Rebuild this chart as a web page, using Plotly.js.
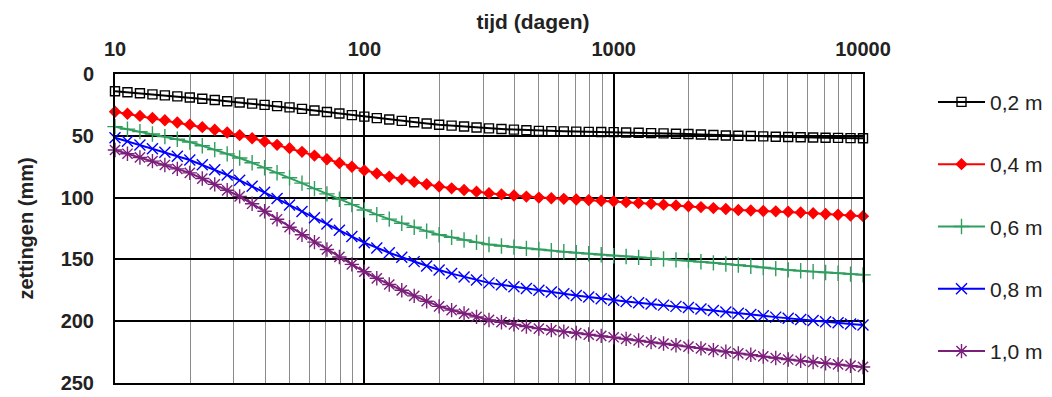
<!DOCTYPE html>
<html>
<head>
<meta charset="utf-8">
<script src="https://cdn.plot.ly/plotly-3.0.1.min.js"></script>
<style>html,body{margin:0;padding:0;background:#fff;}#chart{width:1052px;height:397px;}</style>
</head>
<body>
<div id="chart"></div>
<script>
// time (days), 20 steps per decade
const tijd = [10, 11.22, 12.59, 14.13, 15.85, 17.78, 19.95, 22.39, 25.12, 28.18,
  31.62, 35.48, 39.81, 44.67, 50.12, 56.23, 63.1, 70.79, 79.43, 89.13,
  100, 112.2, 125.9, 141.3, 158.5, 177.8, 199.5, 223.9, 251.2, 281.8,
  316.2, 354.8, 398.1, 446.7, 501.2, 562.3, 631, 707.9, 794.3, 891.3,
  1000, 1122, 1259, 1413, 1585, 1778, 1995, 2239, 2512, 2818,
  3162, 3548, 3981, 4467, 5012, 5623, 6310, 7079, 7943, 8913, 10000];

const seriesNames = ["0,2 m", "0,4 m", "0,6 m", "0,8 m", "1,0 m"];

const z02 = [14, 14.8, 15.6, 16.5, 17.3, 18.1, 19, 20, 21, 22,
  23, 24, 25, 26, 27, 28.2, 29.5, 30.8, 32, 33.3,
  34.5, 35.7, 36.8, 37.9, 39, 40, 41, 41.8, 42.5, 43.3,
  44, 44.5, 45, 45.5, 46, 46.2, 46.4, 46.6, 46.8, 46.9,
  47, 47.3, 47.5, 47.8, 48, 48.3, 48.6, 49, 49.3, 49.7,
  50, 50.2, 50.5, 50.8, 51, 51.2, 51.4, 51.6, 51.7, 51.9, 52];

const z04 = [30.5, 32.2, 33.9, 35.6, 37.4, 39.2, 41, 43, 45.1, 47.3,
  49.5, 52, 54.6, 57.3, 60, 63, 66, 69, 72, 75,
  78, 80.5, 83, 85.2, 87.3, 89.2, 91, 92.5, 93.9, 95.2,
  96.5, 97.4, 98.3, 99.2, 100, 100.5, 101, 101.5, 102, 102.5,
  103, 103.7, 104.4, 105, 105.7, 106.3, 107, 107.7, 108.5, 109.2,
  110, 110.4, 110.8, 111.1, 111.5, 112.1, 112.7, 113.3, 113.9, 114.5, 115];

const z06 = [42.6, 44.6, 46.6, 48.6, 50.7, 52.8, 55, 58, 61.2, 64.6,
  68, 71.8, 75.8, 79.9, 84, 88.3, 92.7, 97, 101.3, 105.7,
  110, 113.8, 117.4, 120.8, 124, 127.1, 130, 132.2, 134.3, 136.2,
  138, 139.1, 140.1, 141.1, 142, 142.9, 143.8, 144.6, 145.4, 146.2,
  147, 147.7, 148.4, 149.1, 149.7, 150.4, 151, 151.9, 152.8, 153.7,
  154.5, 155.5, 156.5, 157.5, 158.5, 159.2, 159.9, 160.6, 161.2, 161.9, 162.5];

const z08 = [51.5, 54.4, 57.4, 60.4, 63.4, 66.5, 69.6, 73.5, 77.5, 81.7,
  86, 90.8, 95.7, 100.8, 106, 111.2, 116.3, 121.4, 126.4, 131.5,
  136.5, 140.7, 144.6, 148.3, 151.8, 155.3, 158.6, 161.5, 164.2, 166.7,
  169, 170.6, 172.1, 173.6, 175, 176.4, 177.8, 179.2, 180.5, 181.8,
  183, 184, 185, 186, 187, 188, 189, 190.2, 191.3, 192.5,
  193.6, 194.6, 195.6, 196.7, 197.7, 198.6, 199.5, 200.4, 201.3, 202.2, 203];

const z10 = [61.5, 64.5, 67.5, 70.5, 73.6, 76.8, 80, 84.6, 89.3, 94.1,
  99, 105, 111.1, 117.5, 124, 130, 136, 142, 148, 154,
  160, 165.3, 170.3, 175, 179.5, 183.8, 188, 191, 193.8, 196.5,
  199, 200.8, 202.6, 204.3, 206, 207.2, 208.4, 209.6, 210.8, 211.9,
  213, 214.3, 215.6, 216.9, 218.1, 219.4, 220.6, 222, 223.4, 224.7,
  226, 227.2, 228.5, 229.8, 231, 232, 233, 234, 235, 236, 237];

const xTickVals = [10, 100, 1000, 10000];
const xTickText = ["<b>10</b>", "<b>100</b>", "<b>1000</b>", "<b>10000</b>"];
const xMinorVals = [20,30,40,50,60,70,80,90,200,300,400,500,600,700,800,900,2000,3000,4000,5000,6000,7000,8000,9000];
const yTickVals = [0, 50, 100, 150, 200, 250];
const yTickText = ["<b>0</b>", "<b>50</b>", "<b>100</b>", "<b>150</b>", "<b>200</b>", "<b>250</b>"];

const values = [z02, z04, z06, z08, z10];
const colors = ["#000000", "#ff0000", "#2f9e5f", "#0000ff", "#7b1f7b"];
const symbols = ["square-open", "diamond", "cross-thin-open", "x-thin-open", "asterisk-open"];
const sizes = [9, 8, 11, 11, 12];

const traces = values.map((v, k) => ({
  type: "scatter",
  mode: "lines+markers",
  name: seriesNames[k],
  legendgroup: "g" + k,
  x: tijd,
  y: v,
  line: {color: colors[k], width: 2},
  marker: {symbol: symbols[k], size: sizes[k], color: colors[k], line: {color: colors[k], width: 1.4}},
  cliponaxis: false
}));

const layout = {
  width: 1052, height: 397,
  margin: {l: 115, r: 189, t: 74, b: 14, autoexpand: false},
  paper_bgcolor: "#ffffff",
  plot_bgcolor: "#ffffff",
  font: {family: "Liberation Sans, Arial, sans-serif", color: "#222"},
  title: {text: "<b>tijd (dagen)</b>", x: 533/1052, xref: "container", xanchor: "center",
          y: 1 - 22/397, yref: "container", yanchor: "middle", font: {size: 21, color: "#222"}},
  xaxis: {
    type: "log", side: "top", range: [1, 4],
    tickvals: xTickVals, ticktext: xTickText,
    tickfont: {size: 20, color: "#222"},
    showgrid: true, gridcolor: "#000", gridwidth: 2,
    minor: {tickvals: xMinorVals, showgrid: true, gridcolor: "#8c8c8c", gridwidth: 1, ticks: ""},
    showline: true, linecolor: "#000", linewidth: 2, mirror: true,
    ticks: "", ticklabelstandoff: 8, zeroline: false
  },
  yaxis: {
    range: [250, 0],
    tickvals: yTickVals, ticktext: yTickText,
    tickfont: {size: 20, color: "#222"},
    showgrid: true, gridcolor: "#000", gridwidth: 2,
    showline: true, linecolor: "#000", linewidth: 2, mirror: true,
    ticks: "", ticklabelstandoff: 15, zeroline: false,
    title: {text: "<b>zettingen (mm)</b>", font: {size: 20, color: "#222"}, standoff: 22}
  },
  showlegend: true,
  legend: {
    x: (933 - 115) / 748, xanchor: "left", y: 0.975, yanchor: "top",
    font: {size: 21, color: "#222"},
    traceorder: "grouped", tracegroupgap: 32,
    bgcolor: "rgba(0,0,0,0)", itemwidth: 47
  }
};

Plotly.newPlot("chart", traces, layout, {displayModeBar: false, staticPlot: true});
</script>
</body>
</html>
